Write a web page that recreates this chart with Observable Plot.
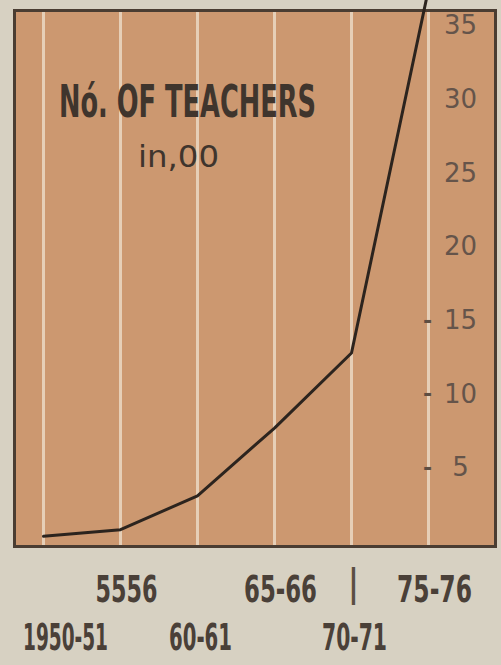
<!DOCTYPE html>
<html>
<head>
<meta charset="utf-8">
<script src="https://cdn.jsdelivr.net/npm/d3@7"></script>
<script src="https://cdn.jsdelivr.net/npm/@observablehq/plot@0.6"></script>
<style>
  html, body { margin: 0; padding: 0; background: #d7d1c2; }
  #chart svg { display: block; }
</style>
</head>
<body>
<div id="chart"></div>
<script>
// Data
const periods = ["1950-51", "55-56", "60-61", "65-66", "70-71", "75-76"];
const tickLabels = ["1950-51", "5556", "60-61", "65-66", "70-71", "75-76"];
const teachers = [0.35, 0.8, 3.1, 7.7, 12.8, 37.5]; // in hundreds
const yTicks = [5, 10, 15, 20, 25, 30, 35];
const yDashTicks = [5, 10, 15];
const titleLine1 = "Nó. OF TEACHERS";
const titleLine2 = "in,00";

const data = periods.map((p, i) => ({period: p, value: teachers[i], label: tickLabels[i]}));
const topRow = data.filter((d, i) => i % 2 === 1);
const firstLabel = data.slice(0, 1);
const bottomRow = data.filter((d, i) => i % 2 === 0 && i > 0);

const condensed = "'Liberation Sans Narrow', 'DejaVu Sans Condensed', 'Roboto Condensed', sans-serif";
const ink = "#3f352d";

const chart = Plot.plot({
  width: 501,
  height: 665,
  marginTop: 10,
  marginBottom: 119,
  marginLeft: 14,
  marginRight: 6,
  style: {background: "#d7d1c2", overflow: "visible"},
  x: {type: "point", domain: periods, padding: 0.363, insetRight: 39, axis: null},
  y: {domain: [-0.34, 36.05], axis: null},
  marks: [
    Plot.frame({fill: "#cc9870"}),
    Plot.gridX({stroke: "#efe2cf", strokeOpacity: 0.75, strokeWidth: 3}),
    Plot.frame({stroke: "#4a3d32", strokeWidth: 3}),
    // y labels inside the frame on the right
    Plot.text(yTicks, {
      y: d => d, text: d => String(d), frameAnchor: "right", dx: -35,
      textAnchor: "middle", fontSize: 26, fill: "#65544a",
      fontFamily: "'DejaVu Sans', sans-serif"
    }),
    Plot.text(yDashTicks, {
      y: d => d, text: () => "-", frameAnchor: "right", dx: -68,
      textAnchor: "middle", fontSize: 22, fill: "#5e4e42", fontWeight: "bold",
      fontFamily: "'DejaVu Sans', sans-serif"
    }),
    // title
    Plot.text([titleLine1], {
      frameAnchor: "top-left", dx: 173, dy: 106, lineAnchor: "bottom",
      textAnchor: "middle", fontSize: 44, fill: ink, fontFamily: condensed,
      fontWeight: "bold", ariaLabel: () => "title1"
    }),
    Plot.text([titleLine2], {
      frameAnchor: "top-left", dx: 164, dy: 156, lineAnchor: "bottom",
      textAnchor: "middle", fontSize: 30, fill: ink, fontFamily: condensed,
      ariaLabel: () => "title2"
    }),
    // the line
    Plot.line(data, {x: "period", y: "value", stroke: "#2c241e", strokeWidth: 3, strokeLinejoin: "round"}),
    // x labels, two staggered rows
    Plot.text(topRow, {
      x: "period", text: "label", frameAnchor: "bottom", dy: 43, dx: 6,
      lineAnchor: "middle", fontSize: 38, fill: "#4a4038", fontFamily: condensed,
      fontWeight: "bold", ariaLabel: () => "xtop"
    }),
    Plot.text(firstLabel, {
      x: "period", text: "label", frameAnchor: "bottom", dy: 91, dx: 22,
      lineAnchor: "middle", fontSize: 38, fill: "#4a4038", fontFamily: condensed,
      fontWeight: "bold", ariaLabel: () => "xfirst"
    }),
    Plot.text(bottomRow, {
      x: "period", text: "label", frameAnchor: "bottom", dy: 91, dx: 3,
      lineAnchor: "middle", fontSize: 38, fill: "#4a4038", fontFamily: condensed,
      fontWeight: "bold", ariaLabel: () => "xbottom"
    }),
    Plot.text(data.filter(d => d.period === "70-71"), {
      x: "period", text: () => "|", frameAnchor: "bottom", dy: 38, dx: 2,
      lineAnchor: "middle", fontSize: 40, fill: "#5a4e44", fontFamily: "'Liberation Sans', sans-serif"
    })
  ]
});

document.getElementById("chart").appendChild(chart);

// Fit hand-lettered widths
function fit(label, widths) {
  const nodes = [];
  chart.querySelectorAll(`[aria-label="${label}"]`).forEach(n => {
    if (n.tagName.toLowerCase() === "text") nodes.push(n);
    else n.querySelectorAll("text").forEach(t => nodes.push(t));
  });
  nodes.forEach((t, i) => {
    if (widths[i] != null) {
      t.setAttribute("textLength", widths[i]);
      t.setAttribute("lengthAdjust", "spacingAndGlyphs");
    }
  });
}
fit("title1", [257]);
fit("title2", [81]);
fit("xtop", [62, 73, 75]);
fit("xfirst", [85]);
fit("xbottom", [63, 65]);
</script>
</body>
</html>
